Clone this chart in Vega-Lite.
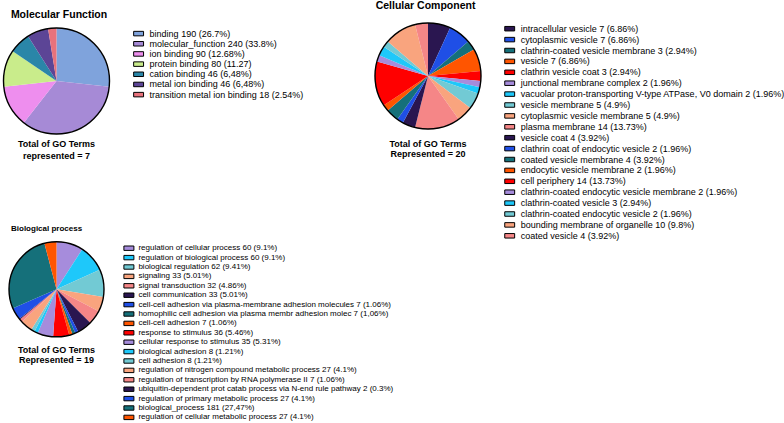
{
  "$schema": "https://vega.github.io/schema/vega-lite/v6.json",
  "background": "white",
  "padding": {"left": 0, "top": 1, "right": 0, "bottom": 0},
  "config": {
    "font": "Liberation Sans",
    "view": {"stroke": null},
    "title": {"font": "Liberation Sans", "fontWeight": "bold", "fontSize": 10.5, "color": "black", "anchor": "middle", "frame": "group", "baseline": "alphabetic"},
    "legend": {"labelFont": "Liberation Sans", "labelColor": "black", "labelLimit": 400, "symbolStrokeColor": "black", "symbolStrokeWidth": 1, "symbolOpacity": 1, "titlePadding": 0}
  },
  "bounds": "flush",
  "spacing": 374,
  "resolve": {"scale": {"color": "independent", "theta": "independent", "y": "independent"}, "legend": {"color": "independent"}},
  "hconcat": [
    {
      "bounds": "flush",
      "spacing": 218.3,
      "resolve": {"scale": {"color": "independent", "theta": "independent", "y": "independent"}, "legend": {"color": "independent"}},
      "vconcat": [
        {
          "bounds": "flush",
          "spacing": 5.3,
          "resolve": {"scale": {"color": "independent", "theta": "independent", "y": "independent"}, "legend": {"color": "independent"}},
          "vconcat": [
            {
              "width": 111,
              "height": 116,
              "title": {"text": "Molecular Function", "offset": 2.5, "dx": 2.5},
              "data": {"values": [
                {"i": 1, "term": "binding", "count": 190, "label": "binding 190 (26.7%)"},
                {"i": 2, "term": "molecular_function", "count": 240, "label": "molecular_function 240 (33.8%)"},
                {"i": 3, "term": "ion binding", "count": 90, "label": "ion binding 90 (12.68%)"},
                {"i": 4, "term": "protein binding", "count": 80, "label": "protein binding 80 (11.27)"},
                {"i": 5, "term": "cation binding", "count": 46, "label": "cation binding 46 (6,48%)"},
                {"i": 6, "term": "metal ion binding", "count": 46, "label": "metal ion binding 46 (6,48%)"},
                {"i": 7, "term": "transition metal ion binding", "count": 18, "label": "transition metal ion binding 18 (2.54%)"}
              ]},
              "layer": [
                {
                  "mark": {"type": "arc", "radius": 53},
                  "encoding": {
                    "theta": {"field": "count", "type": "quantitative", "stack": true},
                    "order": {"field": "i", "type": "quantitative"},
                    "color": {"field": "label", "type": "nominal", "sort": null,
                      "scale": {"range": ["#7fa3dc", "#a68ad6", "#ee8eee", "#c9ec8b", "#2a86a8", "#5c4596", "#e8727c"]},
                      "legend": {"title": null, "orient": "right", "offset": 16.4, "padding": 5.6, "labelFontSize": 9, "symbolType": "M-1.1,-0.5H1.1V0.5H-1.1Z", "symbolSize": 81, "rowPadding": 0.17, "labelOffset": 6,
                        "encode": {"symbols": {"update": {"stroke": {"value": "black"}, "strokeWidth": {"value": 1}}}}}
                    }
                  }
                },
                {
                  "data": {"values": [{"ring": 1}]},
                  "mark": {"type": "arc", "radius": 53, "filled": false, "stroke": "black", "strokeWidth": 1.4},
                  "encoding": {}
                }
              ]
            },
            {
              "width": 111,
              "height": 11.7,
              "data": {"values": [{"k": 1, "line": "Total of GO Terms"}, {"k": 2, "line": "represented = 7"}]},
              "mark": {"type": "text", "fontWeight": "bold", "fontSize": 9, "baseline": "middle", "color": "black"},
              "encoding": {
                "text": {"field": "line"},
                "y": {"field": "k", "type": "ordinal", "axis": null, "scale": {"padding": 0}}
              }
            }
          ]
        },
        {
          "bounds": "flush",
          "spacing": 12.7,
          "resolve": {"scale": {"color": "independent", "theta": "independent", "y": "independent"}, "legend": {"color": "independent"}},
          "vconcat": [
            {
              "width": 111,
              "height": 96,
              "title": {"text": "Biological process", "offset": 6.2, "anchor": "start", "dx": 10, "fontSize": 8},
              "data": {"values": [
                {"i": 1, "term": "regulation of cellular process", "count": 60, "label": "regulation of cellular process 60 (9.1%)"},
                {"i": 2, "term": "regulation of biological process", "count": 60, "label": "regulation of biological process 60 (9.1%)"},
                {"i": 3, "term": "biological regulation", "count": 62, "label": "biological regulation 62 (9.41%)"},
                {"i": 4, "term": "signaling", "count": 33, "label": "signaling 33 (5.01%)"},
                {"i": 5, "term": "signal transduction", "count": 32, "label": "signal transduction 32 (4.86%)"},
                {"i": 6, "term": "cell communication", "count": 33, "label": "cell communication 33 (5.01%)"},
                {"i": 7, "term": "cell-cell adhesion via plasma-membrane adhesion molecules", "count": 7, "label": "cell-cell adhesion via plasma-membrane adhesion molecules 7 (1.06%)"},
                {"i": 8, "term": "homophilic cell adhesion via plasma membr adhesion molec", "count": 7, "label": "homophilic cell adhesion via plasma membr adhesion molec 7 (1,06%)"},
                {"i": 9, "term": "cell-cell adhesion", "count": 7, "label": "cell-cell adhesion 7 (1.06%)"},
                {"i": 10, "term": "response to stimulus", "count": 36, "label": "response to stimulus 36 (5.46%)"},
                {"i": 11, "term": "cellular response to stimulus", "count": 35, "label": "cellular response to stimulus 35 (5.31%)"},
                {"i": 12, "term": "biological adhesion", "count": 8, "label": "biological adhesion 8 (1.21%)"},
                {"i": 13, "term": "cell adhesion", "count": 8, "label": "cell adhesion 8 (1.21%)"},
                {"i": 14, "term": "regulation of nitrogen compound metabolic process", "count": 27, "label": "regulation of nitrogen compound metabolic process 27 (4.1%)"},
                {"i": 15, "term": "regulation of transcription by RNA polymerase II", "count": 7, "label": "regulation of transcription by RNA polymerase II 7 (1.06%)"},
                {"i": 16, "term": "ubiquitin-dependent prot catab process via N-end rule pathway", "count": 2, "label": "ubiquitin-dependent prot catab process via N-end rule pathway 2 (0.3%)"},
                {"i": 17, "term": "regulation of primary metabolic process", "count": 27, "label": "regulation of primary metabolic process 27 (4.1%)"},
                {"i": 18, "term": "biological_process", "count": 181, "label": "biological_process 181 (27,47%)"},
                {"i": 19, "term": "regulation of cellular metabolic process", "count": 27, "label": "regulation of cellular metabolic process 27 (4.1%)"}
              ]},
              "layer": [
                {
                  "mark": {"type": "arc", "radius": 47.5},
                  "encoding": {
                    "theta": {"field": "count", "type": "quantitative", "stack": true},
                    "order": {"field": "i", "type": "quantitative"},
                    "color": {"field": "label", "type": "nominal", "sort": null,
                      "scale": {"range": ["#a68cdc", "#1ec8fa", "#72cad4", "#f9a47e", "#f58687", "#2a1650", "#1f4fe6", "#15707a", "#ff5500", "#ff0000", "#a68cdc", "#1ec8fa", "#72cad4", "#f9a47e", "#f58687", "#2a1650", "#1f4fe6", "#15707a", "#ff5500"]},
                      "legend": {"title": null, "orient": "right", "offset": 10.1, "padding": 2.4, "labelFontSize": 8, "symbolType": "M-1.25,-0.55H1.25V0.55H-1.25Z", "symbolSize": 64, "rowPadding": 0.4, "labelOffset": 5, "symbolLimit": 50,
                        "encode": {"symbols": {"update": {"stroke": {"value": "black"}, "strokeWidth": {"value": 1}}}}}
                    }
                  }
                },
                {
                  "data": {"values": [{"ring": 1}]},
                  "mark": {"type": "arc", "radius": 47.5, "filled": false, "stroke": "black", "strokeWidth": 1.4},
                  "encoding": {}
                }
              ]
            },
            {
              "width": 111,
              "height": 10,
              "data": {"values": [{"k": 1, "line": "Total of GO Terms"}, {"k": 2, "line": "Represented = 19"}]},
              "mark": {"type": "text", "fontWeight": "bold", "fontSize": 9, "baseline": "middle", "color": "black"},
              "encoding": {
                "text": {"field": "line"},
                "y": {"field": "k", "type": "ordinal", "axis": null, "scale": {"padding": 0}}
              }
            }
          ]
        }
      ]
    },
    {
      "bounds": "flush",
      "spacing": 15.3,
      "resolve": {"scale": {"color": "independent", "theta": "independent", "y": "independent"}, "legend": {"color": "independent"}},
      "vconcat": [
        {
          "width": 106,
          "height": 106,
          "title": {"text": "Cellular Component", "offset": 8.7, "dx": -2.5},
          "data": {"values": [
            {"i": 1, "term": "intracellular vesicle", "count": 7, "label": "intracellular vesicle 7 (6.86%)"},
            {"i": 2, "term": "cytoplasmic vesicle", "count": 7, "label": "cytoplasmic vesicle 7 (6.86%)"},
            {"i": 3, "term": "clathrin-coated vesicle membrane", "count": 3, "label": "clathrin-coated vesicle membrane 3 (2.94%)"},
            {"i": 4, "term": "vesicle", "count": 7, "label": "vesicle 7 (6.86%)"},
            {"i": 5, "term": "clathrin vesicle coat", "count": 3, "label": "clathrin vesicle coat 3 (2.94%)"},
            {"i": 6, "term": "junctional membrane complex", "count": 2, "label": "junctional membrane complex 2 (1.96%)"},
            {"i": 7, "term": "vacuolar proton-transporting V-type ATPase, V0 domain", "count": 2, "label": "vacuolar proton-transporting V-type ATPase, V0 domain 2 (1.96%)"},
            {"i": 8, "term": "vesicle membrane", "count": 5, "label": "vesicle membrane 5 (4.9%)"},
            {"i": 9, "term": "cytoplasmic vesicle membrane", "count": 5, "label": "cytoplasmic vesicle membrane 5 (4.9%)"},
            {"i": 10, "term": "plasma membrane", "count": 14, "label": "plasma membrane 14 (13.73%)"},
            {"i": 11, "term": "vesicle coat", "count": 4, "label": "vesicle coat 4 (3.92%)"},
            {"i": 12, "term": "clathrin coat of endocytic vesicle", "count": 2, "label": "clathrin coat of endocytic vesicle 2 (1.96%)"},
            {"i": 13, "term": "coated vesicle membrane", "count": 4, "label": "coated vesicle membrane 4 (3.92%)"},
            {"i": 14, "term": "endocytic vesicle membrane", "count": 2, "label": "endocytic vesicle membrane 2 (1.96%)"},
            {"i": 15, "term": "cell periphery", "count": 14, "label": "cell periphery 14 (13.73%)"},
            {"i": 16, "term": "clathrin-coated endocytic vesicle membrane", "count": 2, "label": "clathrin-coated endocytic vesicle membrane 2 (1.96%)"},
            {"i": 17, "term": "clathrin-coated vesicle", "count": 3, "label": "clathrin-coated vesicle 3 (2.94%)"},
            {"i": 18, "term": "clathrin-coated endocytic vesicle", "count": 2, "label": "clathrin-coated endocytic vesicle 2 (1.96%)"},
            {"i": 19, "term": "bounding membrane of organelle", "count": 10, "label": "bounding membrane of organelle 10 (9.8%)"},
            {"i": 20, "term": "coated vesicle", "count": 4, "label": "coated vesicle 4 (3.92%)"}
          ]},
          "layer": [
            {
              "mark": {"type": "arc", "radius": 53},
              "encoding": {
                "theta": {"field": "count", "type": "quantitative", "stack": true},
                "order": {"field": "i", "type": "quantitative"},
                "color": {"field": "label", "type": "nominal", "sort": null,
                  "scale": {"range": ["#2a1650", "#1f4fe6", "#15707a", "#ff5500", "#ff0000", "#a68cdc", "#1ec8fa", "#72cad4", "#f9a47e", "#f58687", "#2a1650", "#1f4fe6", "#15707a", "#ff5500", "#ff0000", "#a68cdc", "#1ec8fa", "#72cad4", "#f9a47e", "#f58687"]},
                  "legend": {"title": null, "orient": "right", "offset": 23.3, "padding": 0.7, "labelFontSize": 9, "symbolType": "M-1.1,-0.5H1.1V0.5H-1.1Z", "symbolSize": 81, "rowPadding": 0.9, "labelOffset": 6, "symbolLimit": 50,
                    "encode": {"symbols": {"update": {"stroke": {"value": "black"}, "strokeWidth": {"value": 1}}}}}
                }
              }
            },
            {
              "data": {"values": [{"ring": 1}]},
              "mark": {"type": "arc", "radius": 53, "filled": false, "stroke": "black", "strokeWidth": 1.4},
              "encoding": {}
            }
          ]
        },
        {
          "width": 106,
          "height": 10,
          "data": {"values": [{"k": 1, "line": "Total of GO Terms"}, {"k": 2, "line": "Represented = 20"}]},
          "mark": {"type": "text", "fontWeight": "bold", "fontSize": 9, "baseline": "middle", "color": "black"},
          "encoding": {
            "text": {"field": "line"},
            "y": {"field": "k", "type": "ordinal", "axis": null, "scale": {"padding": 0}}
          }
        }
      ]
    }
  ]
}
